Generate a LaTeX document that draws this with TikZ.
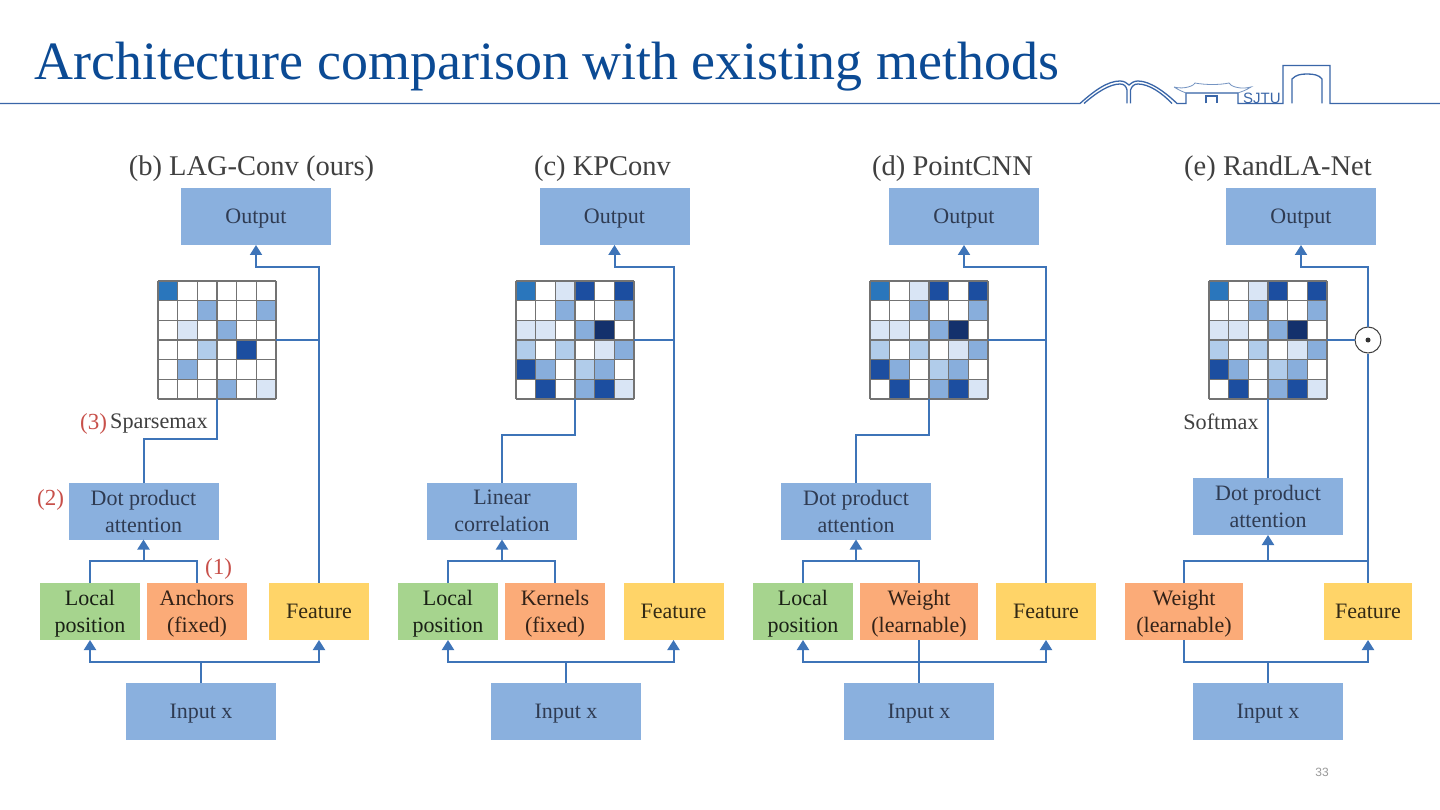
\documentclass[tikz,border=0pt]{standalone}
\usepackage{fontspec}
\setmainfont{Liberation Serif}
\newfontfamily\pagefont{Liberation Sans}
\usetikzlibrary{arrows.meta,calc}
\definecolor{boxblue}{HTML}{8AB0DE}
\definecolor{boxgreen}{HTML}{A6D48E}
\definecolor{boxorange}{HTML}{FBAB78}
\definecolor{boxyellow}{HTML}{FFD468}
\definecolor{linkblue}{HTML}{3E74B8}
\definecolor{titleblue}{HTML}{0B4A94}
\definecolor{ruleblue}{HTML}{3A66A8}
\definecolor{redlabel}{HTML}{C8504A}
\definecolor{inkdark}{HTML}{2F3B52}
\definecolor{A}{HTML}{2A76BC}
\definecolor{D}{HTML}{1C4EA0}
\definecolor{K}{HTML}{14316C}
\definecolor{M}{HTML}{88AEDC}
\definecolor{L}{HTML}{B1CCEA}
\definecolor{V}{HTML}{D9E5F5}
\tikzset{
 bx/.style={inner sep=0pt,outer sep=0pt,align=center,text=inkdark,font=\fontsize{22}{27}\selectfont,text depth=0pt},
 bluebox/.style={bx,fill=boxblue,minimum width=150pt,minimum height=57pt},
 greenbox/.style={bx,fill=boxgreen,minimum width=100pt,minimum height=57pt,text=black!75!boxgreen!60!black},
 orangebox/.style={bx,fill=boxorange,minimum width=100pt,minimum height=57pt,text=black!80!boxorange},
 yellowbox/.style={bx,fill=boxyellow,minimum width=100pt,minimum height=57pt,text=black!80!boxyellow},
 conn/.style={draw=linkblue,line width=2pt},
 arr/.style={conn,-{Triangle[length=10pt,width=12pt]}},
 hd/.style={inner sep=0pt,font=\fontsize{28.5}{32}\selectfont,text=black!75},
 lab/.style={inner sep=0pt,font=\fontsize{22.2}{26}\selectfont,text=black!75},
 red/.style={inner sep=0pt,font=\fontsize{23}{26}\selectfont,text=redlabel},
 heatbox/.style={inner sep=0pt,outer sep=0pt,minimum width=118pt,minimum height=118pt},
 logo/.style={draw=ruleblue,line width=1.3pt}
}
\def\sparsecells{0/0/A,2/1/M,5/1/M,1/2/V,3/2/M,2/3/L,4/3/D,1/4/M,3/5/M,5/5/V}
\def\fullcells{0/0/A,2/0/V,3/0/D,5/0/D,2/1/M,5/1/M,0/2/V,1/2/V,3/2/M,4/2/K,0/3/L,2/3/L,4/3/V,5/3/M,0/4/D,1/4/M,3/4/L,4/4/M,1/5/D,3/5/M,4/5/D,5/5/V}
\newcommand{\heatgrid}[4]{% name, cx, cy, cells
 \node[heatbox] (#1) at (#2,#3) {};
 \begin{scope}[shift={(#1.north west)},x=19.667pt,y=-19.667pt]
  \foreach \ci/\cj/\cc in #4 {\fill[\cc] (\ci,\cj) rectangle ++(1,1);}
  \foreach \gi in {0,...,6} {
   \draw[black!55,line width=1.2pt] (\gi,0) -- (\gi,6);
   \draw[black!55,line width=1.2pt] (0,\gi) -- (6,\gi);
  }
 \end{scope}}
\begin{document}
\begin{tikzpicture}[x=1pt,y=-1pt]
\useasboundingbox (0,0) rectangle (1440,810);
\fill[white] (0,0) rectangle (1440,810);
% header
\node[inner sep=0pt,anchor=base west,text=titleblue,font=\fontsize{53.95}{60}\selectfont] (title) at (34,80) {Architecture comparison with existing methods};
\coordinate (ruleL) at (0,103.5);
\coordinate (ruleR) at (1440,103.5);
\draw[logo] (ruleL) -- (1080,103.5) .. controls (1095,90) and (1108,81) .. (1120,81) .. controls (1124,81) and (1127,83) .. (1129,85) .. controls (1131,83) and (1134,81) .. (1138,81) .. controls (1150,81) and (1165,92) .. (1177,103.5) -- (1186,103.5) -- (1186,93) -- (1238,93) -- (1238,103.5) -- (1283,103.5) -- (1283,65.5) -- (1330,65.5) -- (1330,103.5) -- (ruleR);
\draw[logo] (1084,103.5) .. controls (1097,92) and (1110,84) .. (1120,84) .. controls (1124,84) and (1126,86) .. (1127,90) -- (1127,103.5);
\draw[logo] (1130.5,103.5) -- (1130.5,90) .. controls (1132,86) and (1134,84) .. (1138,84) .. controls (1149,84) and (1162,93) .. (1172,103.5);
\draw[logo,line width=.8pt,draw=ruleblue!70] (1174,87) .. controls (1185,90) and (1195,85) .. (1195,83) .. controls (1205,85) and (1220,85) .. (1229,83) .. controls (1230,86) and (1240,90) .. (1251,87) .. controls (1245,91) and (1240,92) .. (1238,93) -- (1186,93) .. controls (1184,92) and (1180,91) .. (1174,87);
\draw[logo] (1206,103.5) -- (1206,96) -- (1217,96) -- (1217,103.5);
\draw[logo] (1292,103.5) -- (1292,79) .. controls (1296,75) and (1300,74) .. (1307,74) .. controls (1314,74) and (1319,75) .. (1322,79) -- (1322,103.5);
\node[inner sep=0pt,anchor=base west,text=ruleblue,font=\pagefont\fontsize{15}{16}\selectfont] (sjtu) at (1243,103.5) {SJTU};
\node[inner sep=0pt,text=black!40,font=\pagefont\fontsize{12}{14}\selectfont] (pageno) at (1322,772) {33};

% panel b
\node[hd] (headb) at (251.5,168.5) {(b) LAG-Conv (ours)};
\node[bluebox] (outb) at (256,216.5) {Output};
\heatgrid{heatb}{217}{340}{\sparsecells}
\node[bluebox] (dotb) at (143.5,511) {Dot product\\attention};
\node[greenbox] (localb) at (90,611.5) {Local\\position};
\node[orangebox] (anchb) at (197,611.5) {Anchors\\(fixed)};
\node[yellowbox] (featb) at (319,611.5) {Feature};
\node[bluebox] (inb) at (201,711.5) {Input x};
\node[lab,anchor=west] (sparse) at (110,424) {Sparsemax};
\node[red] (m3) at (93.5,424) {(3)};
\node[red] (m2) at (50.5,500) {(2)};
\node[red] (m1) at (218.5,569) {(1)};
\coordinate (busb) at (201,661.5);
\coordinate (brb) at (143.5,561);
\draw[conn] (inb.north) -- (busb);
\draw[arr] (busb) -| (localb.south);
\draw[arr] (busb) -| (featb.south);
\draw[conn] (localb.north) |- (brb) -| (anchb.north);
\draw[arr] (brb) -- (dotb.south);
\draw[conn] (heatb.south) -- ++(0,40) -| (dotb.north);
\draw[arr] (featb.north) |- ($(outb.south)+(0,22)$) -- (outb.south);
\draw[conn] (heatb.east) -- (heatb.east -| featb.north);

% panel c
\node[hd] (headc) at (602.5,168.5) {(c) KPConv};
\node[bluebox] (outc) at (614.5,216.5) {Output};
\heatgrid{heatc}{575}{340}{\fullcells}
\node[bluebox] (dotc) at (502,511) {Linear\\correlation};
\node[greenbox] (localc) at (448,611.5) {Local\\position};
\node[orangebox] (kernc) at (555,611.5) {Kernels\\(fixed)};
\node[yellowbox] (featc) at (673.5,611.5) {Feature};
\node[bluebox] (inc) at (566,711.5) {Input x};
\coordinate (busc) at (566,661.5);
\coordinate (brc) at (502,561);
\draw[conn] (inc.north) -- (busc);
\draw[arr] (busc) -| (localc.south);
\draw[arr] (busc) -| (featc.south);
\draw[conn] (localc.north) |- (brc) -| (kernc.north);
\draw[arr] (brc) -- (dotc.south);
\draw[conn] (heatc.south) -- ++(0,36) -| (dotc.north);
\draw[arr] (featc.north) |- ($(outc.south)+(0,22)$) -- (outc.south);
\draw[conn] (heatc.east) -- (heatc.east -| featc.north);

% panel d
\node[hd] (headd) at (952.5,168.5) {(d) PointCNN};
\node[bluebox] (outd) at (964,216.5) {Output};
\heatgrid{heatd}{929}{340}{\fullcells}
\node[bluebox] (dotd) at (856,511) {Dot product\\attention};
\node[greenbox] (locald) at (803,611.5) {Local\\position};
\node[orangebox,minimum width=118pt] (weightd) at (919,611.5) {Weight\\(learnable)};
\node[yellowbox] (featd) at (1046,611.5) {Feature};
\node[bluebox] (ind) at (919,711.5) {Input x};
\coordinate (busd) at (919,661.5);
\coordinate (brd) at (856,561);
\draw[conn] (ind.north) -- (weightd.south);
\draw[arr] (busd) -| (locald.south);
\draw[arr] (busd) -| (featd.south);
\draw[conn] (locald.north) |- (brd) -| (weightd.north);
\draw[arr] (brd) -- (dotd.south);
\draw[conn] (heatd.south) -- ++(0,36) -| (dotd.north);
\draw[arr] (featd.north) |- ($(outd.south)+(0,22)$) -- (outd.south);
\draw[conn] (heatd.east) -- (heatd.east -| featd.north);

% panel e
\node[hd] (heade) at (1278,168.5) {(e) RandLA-Net};
\node[bluebox] (oute) at (1301,216.5) {Output};
\heatgrid{heate}{1268}{340}{\fullcells}
\node[bluebox] (dote) at (1268,506.5) {Dot product\\attention};
\node[orangebox,minimum width=118pt] (weighte) at (1184,611.5) {Weight\\(learnable)};
\node[yellowbox,minimum width=88pt] (feate) at (1368,611.5) {Feature};
\node[bluebox] (ine) at (1268,711.5) {Input x};
\node[lab] (soft) at (1221,422) {Softmax};
\node[draw=black!75,line width=1pt,circle,minimum size=26pt,inner sep=0pt,fill=white] (odot) at (1368,340) {};
\node[circle,fill=black!80,minimum size=5pt,inner sep=0pt] (odotc) at (odot.center) {};
\coordinate (buse) at (1268,661.5);
\coordinate (bre) at (1268,561);
\draw[conn] (ine.north) -- (buse);
\draw[conn] (weighte.south) |- (buse);
\draw[arr] (buse) -| (feate.south);
\draw[conn] (weighte.north) |- (bre) -| (feate.north);
\draw[arr] (bre) -- (dote.south);
\draw[conn] (dote.north) -- (heate.south);
\draw[conn] (feate.north) -- (odot.south);
\draw[conn] (heate.east) -- (odot.west);
\draw[arr] (odot.north) |- ($(oute.south)+(0,22)$) -- (oute.south);
\end{tikzpicture}
\end{document}
